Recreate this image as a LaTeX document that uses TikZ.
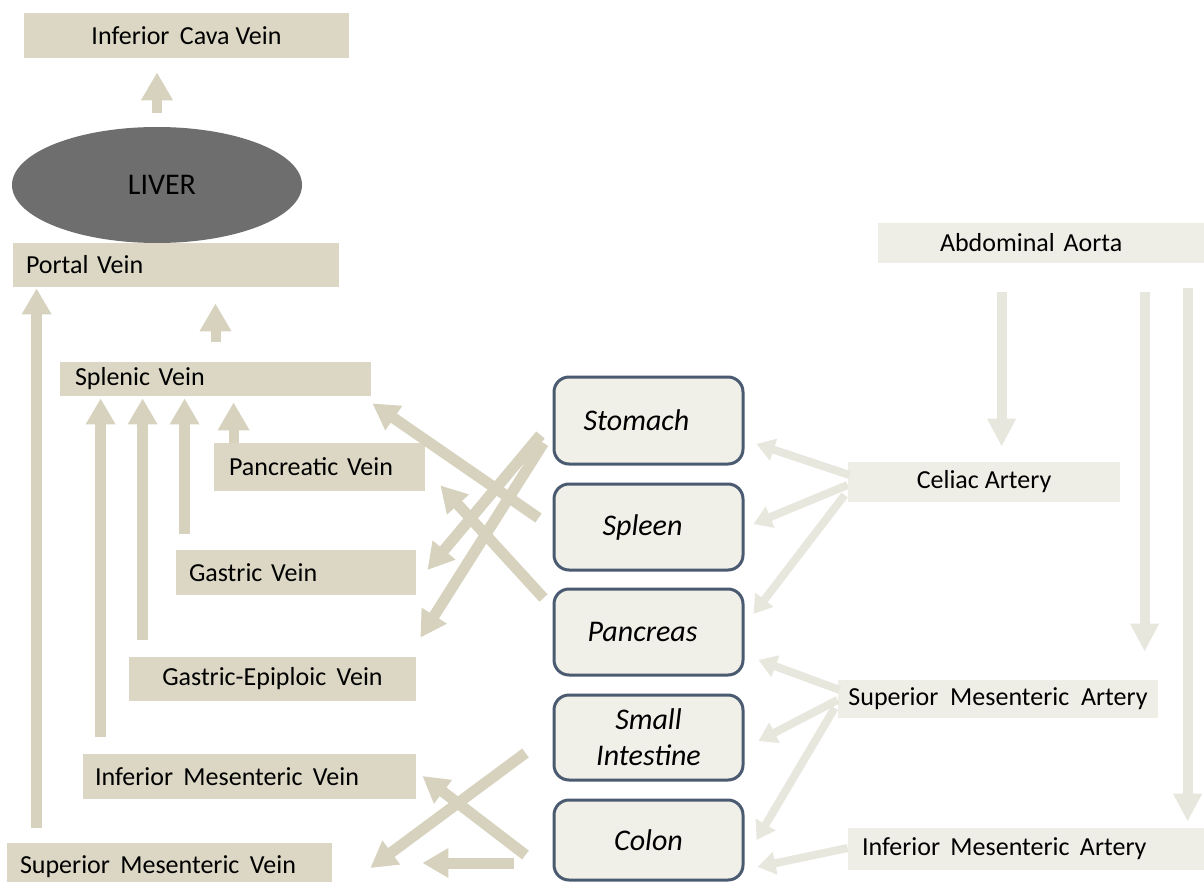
\documentclass[tikz,border=0pt]{standalone}
\usepackage{fontspec}
\setmainfont{Carlito}
\usetikzlibrary{arrows.meta,calc,shapes.geometric}
\definecolor{vein}{RGB}{219,215,196}
\definecolor{veinarrow}{RGB}{214,210,190}
\definecolor{art}{RGB}{238,237,230}
\definecolor{artarrow}{RGB}{232,231,222}
\definecolor{liverc}{RGB}{110,110,110}
\definecolor{organfill}{RGB}{240,239,232}
\definecolor{organdraw}{RGB}{74,90,112}
\newcommand{\wgap}{\hspace{0.4em}}
\begin{document}
\begin{tikzpicture}[x=0.5pt,y=-0.5pt,
  vbox/.style={rectangle, fill=vein, draw=none, inner sep=0pt, font=\fontsize{13}{15}\selectfont, text=black},
  abox/.style={rectangle, fill=art, draw=none, inner sep=0pt, font=\fontsize{13}{15}\selectfont, text=black},
  organ/.style={rectangle, rounded corners=7.5pt, draw=organdraw, line width=1.5pt, fill=organfill,
    minimum width=94.5pt, inner sep=0pt, font=\fontsize{15}{18}\selectfont\itshape, align=center},
  varr/.style={draw=veinarrow, line width=5.5pt, -{Triangle[width=14pt,length=13pt]}},
  sarr/.style={draw=veinarrow, line width=5pt, -{Triangle[width=15pt,length=14pt]}},
  aarr/.style={draw=artarrow, line width=4pt, -{Triangle[width=11pt,length=9pt]}},
  aarr2/.style={draw=artarrow, line width=5pt, -{Triangle[width=13.5pt,length=14pt]}}]
\useasboundingbox (0,0) rectangle (1204,882);
\clip (0,0) rectangle (1204,882);
\fill[white] (0,0) rectangle (1204,882);

% vein side
\node[vbox, minimum width=162.5pt, minimum height=22.5pt] (icv) at (186.5,35.5) {Inferior\wgap Cava Vein};
\node[ellipse, fill=liverc, minimum width=145pt, minimum height=58pt, inner sep=0pt,
  font=\fontsize{15}{18}\selectfont] (liver) at (157,185) {\hspace{5pt}LIVER};
\node[vbox, minimum height=22pt, inner xsep=6.5pt, text width=150pt, align=left] (portal) at (176,265) {Portal Vein};
\node[vbox, minimum height=17pt, inner xsep=7.5pt, text width=140.5pt, align=left] (splenic) at (215.5,379) {Splenic Vein};
\node[vbox, minimum height=24pt, inner xsep=7.5pt, text width=90.5pt, align=left] (pancv) at (319.5,467) {Pancreatic Vein};
\node[vbox, minimum height=22.5pt, inner xsep=6.5pt, text width=107pt, align=left] (gastric) at (296,572.5) {Gastric Vein};
\node[vbox, minimum width=143.5pt, minimum height=22pt] (gev) at (272.5,679) {Gastric-Epiploic\wgap Vein};
\node[vbox, minimum height=22.5pt, inner xsep=6pt, text width=154.5pt, align=left] (imv) at (249.5,776.5) {Inferior\wgap Mesenteric\wgap Vein};
\node[vbox, minimum height=23.5pt, inner xsep=6.5pt, text width=149.5pt, align=left] (smv) at (169.5,866.5) {Superior\wgap Mesenteric\wgap Vein};

% organs
\node[organ, minimum height=43.5pt] (stomach) at (648.5,420.5) {Stomach\hspace{12pt}};
\node[organ, minimum height=43pt] (spleen) at (648.5,527) {Spleen\hspace{6pt}};
\node[organ, minimum height=43pt] (pancreas) at (648.5,632) {Pancreas\hspace{6pt}};
\node[organ, minimum height=42.5pt] (si) at (648.5,737.5) {Small\\Intestine};
\node[organ, minimum height=40pt] (colon) at (648.5,840) {Colon};

% artery side
\node[abox, minimum height=20pt, inner xsep=31pt, text width=101pt, align=left] (aorta) at (1041,243) {Abdominal Aorta};
\node[abox, minimum width=136pt, minimum height=20pt] (celiac) at (984,482) {Celiac Artery};
\node[abox, minimum width=160pt, minimum height=19pt] (sma) at (998,699) {Superior\ \ Mesenteric\ \ Artery};
\node[abox, minimum height=21pt, inner xsep=7pt, text width=167pt, align=left] (ima) at (1029,849) {Inferior\wgap Mesenteric\wgap Artery};

% vein arrows
\draw[sarr, shorten <=7pt, shorten >=7pt] (liver.north) -- (liver.north |- icv.south);
\draw[sarr, shorten <=10pt, shorten >=8pt] (splenic.north) -- (splenic.north |- portal.south);
\draw[varr, shorten <=7.5pt, shorten >=0.5pt] ($(smv.north west)+(30,0)$) -- ($(portal.south west)+(24,0)$);
\draw[varr, shorten <=8.5pt, shorten >=1pt] ($(imv.north west)+(18,0)$) -- ($(splenic.south west)+(41,0)$);
\draw[varr, shorten <=8.5pt, shorten >=1pt] ($(gev.north west)+(14,0)$) -- ($(splenic.south west)+(83,0)$);
\draw[varr, shorten <=8pt, shorten >=1pt] ($(gastric.north west)+(9,0)$) -- ($(splenic.south west)+(125,0)$);
\draw[sarr, shorten >=3pt] ($(pancv.north west)+(20,0)$) -- ($(splenic.south west)+(174,0)$);

\draw[varr] ($(spleen.west)+(-14,-9)$) -- ($(splenic.south east)+(1,7)$);
\draw[varr] ($(pancreas.west)+(-9,-34)$) -- ($(pancv.south east)+(15,-6)$);
\draw[varr] ($(stomach.west)+(-12,14.5)$) -- ($(gastric.east)+(11,-2.5)$);
\draw[varr] ($(stomach.west)+(-9,22.5)$) -- ($(gev.north east)+(4,-19)$);
\draw[varr] ($(si.west)+(-27,15.5)$) -- ($(smv.east)+(38,1.5)$);
\draw[varr] ($(colon.west)+(-27,15)$) -- ($(imv.east)+(6,-0.5)$);
\draw[varr] ($(colon.west)+(-39,23)$) -- ($(smv.east)+(90,-3.5)$);

% artery arrows
\draw[aarr2] ($(aorta.south west)+(124,29)$) -- ($(celiac.north west)+(154,-15)$);
\draw[aarr2] ($(aorta.south west)+(267,29)$) -- ($(sma.north west)+(307,-28)$);
\draw[aarr2] ($(aorta.south west)+(310,25)$) -- ($(ima.north west)+(340,-6)$);

\draw[aarr] ($(celiac.west)+(2,-7)$) -- ($(stomach.east)+(12,23.5)$);
\draw[aarr] ($(celiac.west)+(0,3)$) -- ($(spleen.east)+(9,-3)$);
\draw[aarr] ($(celiac.west)+(-3,13)$) -- ($(pancreas.east)+(9,-18)$);
\draw[aarr] ($(sma.west)+(2,-9)$) -- ($(pancreas.east)+(14,28)$);
\draw[aarr] ($(sma.west)+(0,1)$) -- ($(si.east)+(14,3.5)$);
\draw[aarr] ($(sma.west)+(-3,9)$) -- ($(colon.east)+(12,0)$);
\draw[aarr] ($(ima.west)+(0,-1)$) -- ($(colon.east)+(13,27)$);
\end{tikzpicture}
\end{document}
